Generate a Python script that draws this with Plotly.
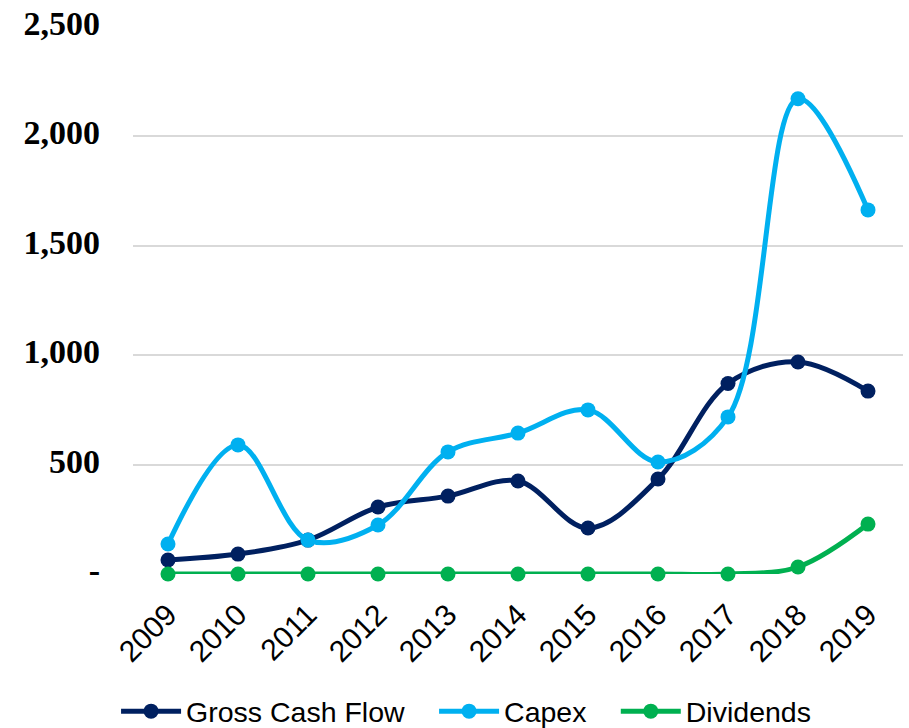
import plotly.graph_objects as go

years = ["2009", "2010", "2011", "2012", "2013", "2014", "2015", "2016", "2017", "2018", "2019"]
gross_cash_flow = [64, 91, 155, 306, 356, 425, 210, 434, 871, 969, 836]
capex = [137, 590, 155, 224, 558, 644, 750, 512, 718, 2172, 1664]
dividends = [0, 0, 0, 0, 0, 0, 0, 0, 0, 32, 228]

y_tickvals = [0, 500, 1000, 1500, 2000, 2500]
y_ticktext = ["-", "500", "1,000", "1,500", "2,000", "2,500"]

series = [
    ("Gross Cash Flow", gross_cash_flow, "#002060", "legend"),
    ("Capex", capex, "#00B0F0", "legend2"),
    ("Dividends", dividends, "#00B050", "legend3"),
]

fig = go.Figure()
for name, vals, color, leg in series:
    fig.add_trace(go.Scatter(
        x=years, y=vals, name=name, mode="lines+markers",
        line=dict(color=color, width=5, shape="spline", smoothing=1),
        marker=dict(color=color, size=15),
        cliponaxis=False, legend=leg,
    ))

legend_font = dict(family="Liberation Sans, Arial", size=28.5, color="black")
def make_legend(xpos):
    return dict(
        orientation="h", x=xpos, xanchor="left", y=-0.205, yanchor="top",
        font=legend_font, itemwidth=60, tracegroupgap=0,
        bgcolor="rgba(0,0,0,0)",
    )

fig.update_layout(
    width=909, height=728,
    margin=dict(l=133, r=6, t=27, b=154, autoexpand=False),
    plot_bgcolor="white", paper_bgcolor="white",
    showlegend=True,
    legend=make_legend(-0.022),
    legend2=make_legend(0.391),
    legend3=make_legend(0.627),
    xaxis=dict(
        type="category", range=[-0.5, 10.5], automargin=False,
        showgrid=False, showline=False, zeroline=False,
        tickangle=-45,
        tickfont=dict(family="Liberation Sans, Arial", size=30, color="black"),
        ticks="", ticklabelstandoff=16,
    ),
    yaxis=dict(
        range=[0, 2500], automargin=False,
        tickvals=y_tickvals, ticktext=y_ticktext,
        showgrid=True, gridcolor="#d9d9d9", gridwidth=1.5,
        zeroline=False, showline=False,
        tickfont=dict(family="Liberation Serif, Times New Roman", size=34, color="black", weight="bold"),
        ticks="", ticklabelstandoff=32, ticklabelshift=-4,
    ),
)

fig.write_html("out.html")
